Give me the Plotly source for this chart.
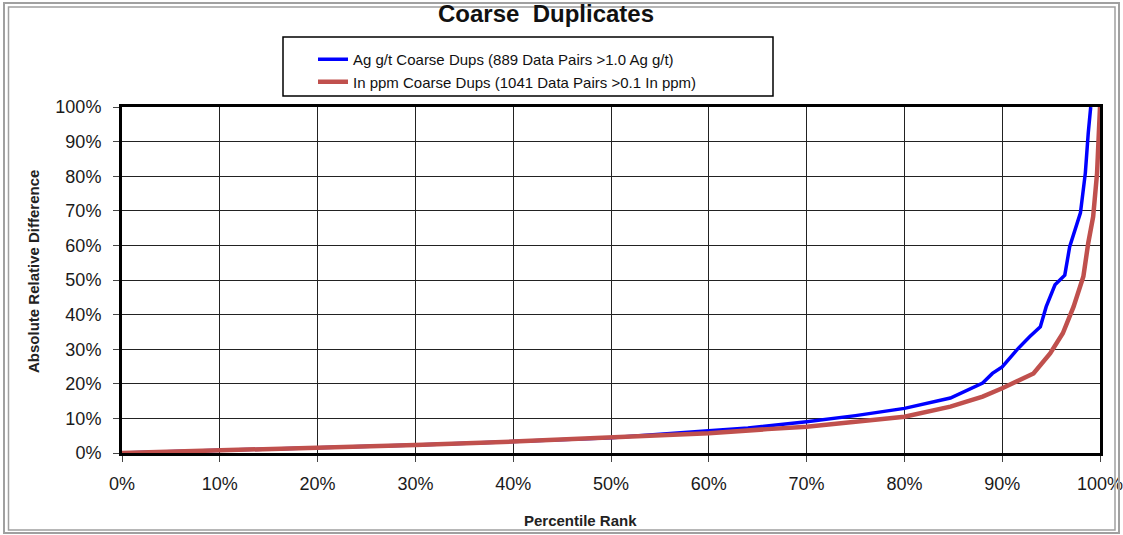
import plotly.graph_objects as go

# Percentile rank (%) and absolute relative difference (%)
ag_rank = [0, 10, 20, 30, 40, 50, 60, 64, 70, 75, 80, 84.7, 88, 89, 90, 91.5, 92.8,
           93.9, 94.5, 95.4, 96.4, 96.9, 98, 98.5, 98.8, 99.05]
ag_diff = [0, 0.7, 1.5, 2.3, 3.3, 4.4, 6.4, 7.2, 9.0, 10.8, 12.9, 15.9, 20.2, 23.0, 24.9,
           29.8, 33.6, 36.5, 42.3, 48.6, 51.4, 59.6, 69.4, 80.9, 92.5, 100]

in_rank = [0, 10, 20, 30, 40, 50, 60, 66, 70, 75, 80, 84.7, 88, 90, 93.2, 94.9,
           96.2, 97.3, 98.3, 98.8, 99.3, 99.7, 99.9, 100]
in_diff = [0, 0.7, 1.4, 2.3, 3.3, 4.4, 5.7, 6.9, 7.6, 9.0, 10.5, 13.4, 16.3, 18.7,
           23.0, 28.8, 34.6, 42.3, 51.0, 60.7, 68.3, 80.9, 97.4, 100]

ag_name = "Ag g/t Coarse Dups (889 Data Pairs >1.0 Ag g/t)"
in_name = "In ppm Coarse Dups (1041 Data Pairs >0.1 In ppm)"
tick_vals = [0, 10, 20, 30, 40, 50, 60, 70, 80, 90, 100]
tick_text = [f"{v}%" for v in tick_vals]

W, H = 1123, 535
L, R, T, B = 122, 1100, 107, 453


def px(x):
    return (x - L) / (R - L)


def py(y):
    return (B - y) / (B - T)


FONT = "Liberation Sans, Arial, sans-serif"

fig = go.Figure()
fig.add_trace(go.Scatter(x=ag_rank, y=ag_diff, mode="lines", name=ag_name,
                         line=dict(color="#0000FF", width=3.5)))
fig.add_trace(go.Scatter(x=in_rank, y=in_diff, mode="lines", name=in_name,
                         line=dict(color="#C0504D", width=4.5)))

shapes = [
    # outer double frame
    dict(type="rect", xref="paper", yref="paper", x0=px(4), x1=px(1119), y0=py(533), y1=py(3),
         line=dict(color="#a0a0a0", width=2), layer="above"),
    dict(type="rect", xref="paper", yref="paper", x0=px(8.5), x1=px(1115), y0=py(530), y1=py(7),
         line=dict(color="#a0a0a0", width=1.5), layer="above"),
    # legend box
    dict(type="rect", xref="paper", yref="paper", x0=px(283), x1=px(773), y0=py(96), y1=py(37),
         line=dict(color="black", width=1.5), fillcolor="white", layer="below"),
]

fig.update_layout(
    width=W, height=H,
    margin=dict(l=L, r=W - R, t=T, b=H - B, autoexpand=False),
    paper_bgcolor="white", plot_bgcolor="white",
    font=dict(family=FONT, color="#1a1a1a"),
    title=dict(text="<b>Coarse\u00a0 Duplicates</b>", font=dict(size=24, color="#111"),
               xref="paper", x=px(546), xanchor="center",
               yref="container", y=1 - 14 / H, yanchor="middle"),
    showlegend=True,
    legend=dict(x=px(313), y=py(43), xanchor="left", yanchor="top",
                bgcolor="rgba(0,0,0,0)", borderwidth=0,
                font=dict(size=15, color="#111")),
    shapes=shapes,
    annotations=[
        dict(text="<b>Absolute Relative Difference</b>", xref="paper", yref="paper",
             x=px(33), y=py(272), textangle=-90, showarrow=False,
             font=dict(size=15, color="#222"), xanchor="center", yanchor="middle"),
        dict(text="<b>Percentile Rank</b>", xref="paper", yref="paper",
             x=px(580), y=py(520), showarrow=False,
             font=dict(size=15, color="#222"), xanchor="center", yanchor="middle"),
    ],
)

fig.update_xaxes(range=[0, 100], tickvals=tick_vals, ticktext=tick_text,
                 showgrid=True, gridcolor="#222", gridwidth=1,
                 showline=True, linecolor="black", linewidth=3, mirror=True,
                 ticks="outside", ticklen=6, tickcolor="#444",
                 tickfont=dict(size=18, color="#1a1a1a"), ticklabelstandoff=6,
                 ticklabeloverflow="allow", automargin=False,
                 zeroline=False, fixedrange=True)
fig.update_yaxes(range=[0, 100], tickvals=tick_vals, ticktext=tick_text,
                 showgrid=True, gridcolor="#222", gridwidth=1,
                 showline=True, linecolor="black", linewidth=3, mirror=True,
                 ticks="outside", ticklen=6, tickcolor="#444",
                 tickfont=dict(size=18, color="#1a1a1a"), ticklabelstandoff=8,
                 ticklabeloverflow="allow", automargin=False,
                 zeroline=False, fixedrange=True)

fig.write_html("out.html", post_script="document.body.style.margin='0';",
               config={"displayModeBar": False})
